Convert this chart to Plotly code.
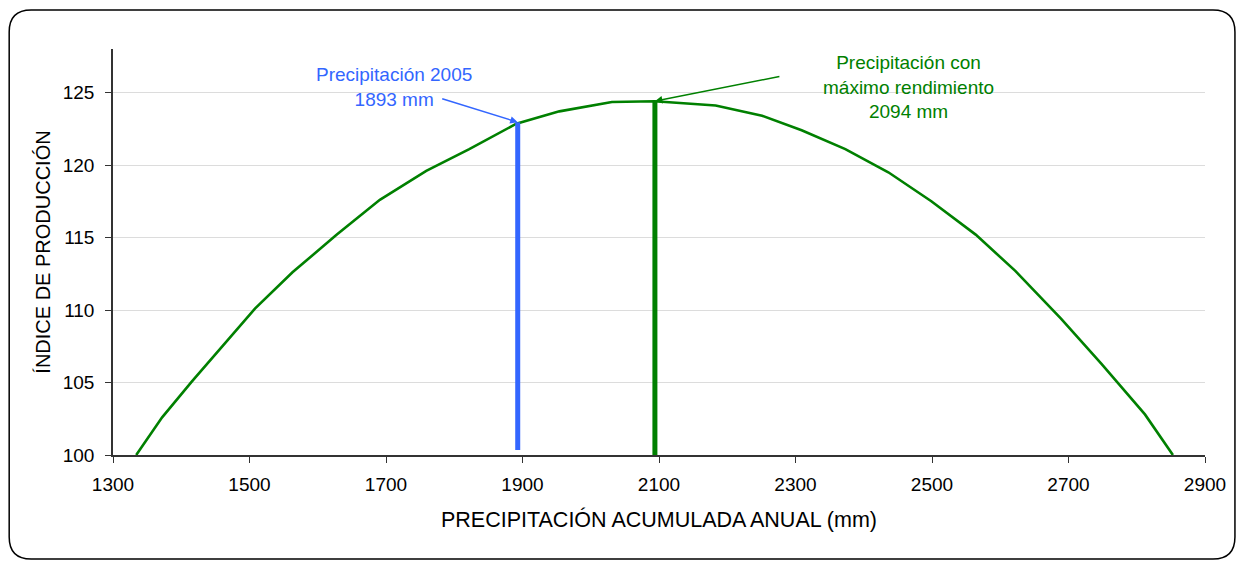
import plotly.graph_objects as go

# Curve data
precip = [1334, 1372, 1416, 1508, 1563, 1628, 1691, 1759, 1822, 1891, 1954, 2031, 2094,
          2183, 2251, 2309, 2373, 2436, 2499, 2564, 2622, 2689, 2748, 2812, 2853]
indice = [100.0, 102.6, 105.1, 110.1, 112.6, 115.2, 117.6, 119.6, 121.1, 122.85, 123.7, 124.35, 124.4,
          124.1, 123.4, 122.4, 121.1, 119.5, 117.5, 115.2, 112.7, 109.4, 106.3, 102.8, 100.0]

precip_2005 = 1893
indice_2005 = 122.95
precip_max = 2094
indice_max = 124.4

x_ticks = [1300, 1500, 1700, 1900, 2100, 2300, 2500, 2700, 2900]
y_ticks = [100, 105, 110, 115, 120, 125]

W, H = 1238, 561
ML, MR, MT, MB = 113, 31, 49, 106
PW, PH = W - ML - MR, H - MT - MB

def px(x):
    return (x - ML) / PW

def py(y):
    return (H - MB - y) / PH

fig = go.Figure()
fig.add_trace(go.Scatter(x=precip, y=indice, mode="lines",
                         line=dict(color="#008000", width=2.6), hoverinfo="skip"))
fig.add_trace(go.Scatter(x=[precip_2005, precip_2005], y=[100.35, indice_2005], mode="lines",
                         line=dict(color="#3366FF", width=5), hoverinfo="skip"))
fig.add_trace(go.Scatter(x=[precip_max, precip_max], y=[99.8, indice_max], mode="lines",
                         line=dict(color="#008000", width=5), hoverinfo="skip", cliponaxis=False))

font = "Liberation Sans, Arial, sans-serif"

# rounded border
l, r, t, b, rad = 9, 1237, 10, 559, 22
path = (f"M {px(l+rad)},{py(t)} L {px(r-rad)},{py(t)} Q {px(r)},{py(t)} {px(r)},{py(t+rad)} "
        f"L {px(r)},{py(b-rad)} Q {px(r)},{py(b)} {px(r-rad)},{py(b)} "
        f"L {px(l+rad)},{py(b)} Q {px(l)},{py(b)} {px(l)},{py(b-rad)} "
        f"L {px(l)},{py(t+rad)} Q {px(l)},{py(t)} {px(l+rad)},{py(t)} Z")
fig.add_shape(type="path", path=path, xref="paper", yref="paper",
              line=dict(color="black", width=1.5), layer="below")

# arrows
fig.add_annotation(x=precip_2005, y=indice_2005, xref="x", yref="y",
                   text="", showarrow=True,
                   arrowhead=2, arrowsize=1, arrowwidth=1.5, arrowcolor="#3366FF",
                   ax=438 - 515, ay=98 - 122)
fig.add_annotation(x=precip_max, y=indice_max, xref="x", yref="y",
                   text="", showarrow=True,
                   arrowhead=2, arrowsize=1, arrowwidth=1.5, arrowcolor="#008000",
                   ax=784 - 658, ay=77 - 102)
# texts
fig.add_annotation(x=px(395), y=py(87), xref="paper", yref="paper",
                   text="Precipitación 2005<br>1893 mm", showarrow=False,
                   xanchor="center", yanchor="middle",
                   font=dict(family=font, size=19, color="#3366FF"))
fig.add_annotation(x=px(910), y=py(87), xref="paper", yref="paper",
                   text="Precipitación con<br>máximo rendimiento<br>2094 mm", showarrow=False,
                   xanchor="center", yanchor="middle",
                   font=dict(family=font, size=19, color="#008000"))

fig.update_layout(
    width=W, height=H,
    margin=dict(l=ML, r=MR, t=MT, b=MB),
    paper_bgcolor="white", plot_bgcolor="white",
    showlegend=False,
    font=dict(family=font, size=19, color="black"),
    xaxis=dict(range=[1300, 2900], tickvals=x_ticks, ticks="outside", ticklen=6,
               tickcolor="#333", showline=True, linecolor="#333", linewidth=1.5,
               showgrid=False, zeroline=False, ticklabelstandoff=5,
               title=dict(text="PRECIPITACIÓN ACUMULADA ANUAL (mm)", font=dict(size=21.5), standoff=18),
               tickfont=dict(size=19)),
    yaxis=dict(range=[100, 128], tickvals=y_ticks, ticks="outside", ticklen=6,
               tickcolor="#333", showline=True, linecolor="#333", linewidth=1.5,
               showgrid=True, gridcolor="#dcdcdc", gridwidth=1, zeroline=False,
               ticklabelstandoff=7,
               title=dict(text="ÍNDICE DE PRODUCCIÓN", font=dict(size=20), standoff=7),
               tickfont=dict(size=19)),
)

fig.write_html("out.html", config={"displayModeBar": False},
               post_script="document.body.style.margin='0';document.body.style.overflow='hidden';")
